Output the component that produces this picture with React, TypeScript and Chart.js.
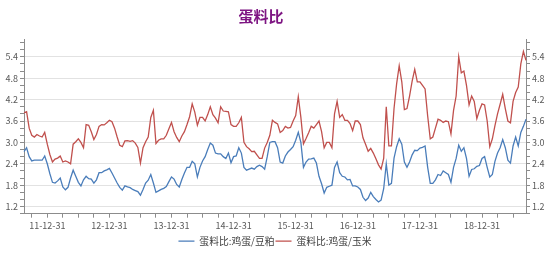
import React, { useEffect, useRef } from 'react';
import { Chart, registerables } from 'chart.js';

Chart.register(...registerables);

const FONT = '"Noto Sans CJK SC", "Noto Sans", sans-serif';
const TITLE = '蛋料比';
const TITLE_COLOR = '#7E1683';
const SERIES_NAMES = ['蛋料比:鸡蛋/豆粕', '蛋料比:鸡蛋/玉米'];
const SERIES_COLORS = ['#4A7DBA', '#C0504D'];
const AXIS_COLOR = '#8C8C8C';
const GRID_COLOR = '#E2E2E2';
const TICK_COLOR = '#595959';

// Semi-monthly observation dates (YY-MM-DD), 11-08-15 .. 19-09-15
function buildCategories(): string[] {
  const out: string[] = [];
  for (let y = 2011; y <= 2019; y++) {
    for (let m = 1; m <= 12; m++) {
      if (y === 2011 && m < 8) continue;
      const yy = String(y % 100).padStart(2, '0');
      const mm = String(m).padStart(2, '0');
      out.push(`${yy}-${mm}-15`);
      if (y === 2019 && m === 9) return out;
      const last = new Date(y, m, 0).getDate();
      out.push(`${yy}-${mm}-${last}`);
    }
  }
  return out;
}
const categories = buildCategories();

// 蛋料比:鸡蛋/豆粕
const eggSoymeal = [
  2.74, 2.85, 2.60, 2.48, 2.50, 2.50, 2.50, 2.50, 2.62, 2.40,
  2.12, 1.88, 1.86, 1.92, 2.00, 1.75, 1.67, 1.74, 2.00, 2.22,
  2.05, 1.88, 1.78, 1.95, 2.05, 1.98, 1.97, 1.86, 1.95, 2.15,
  2.15, 2.20, 2.23, 2.27, 2.14, 2.00, 1.86, 1.74, 1.66, 1.78,
  1.75, 1.73, 1.68, 1.65, 1.62, 1.52, 1.68, 1.86, 1.94, 2.10,
  1.86, 1.60, 1.64, 1.68, 1.71, 1.76, 1.90, 2.03, 1.97, 1.82,
  1.75, 1.96, 2.14, 2.30, 2.30, 2.47, 2.40, 2.03, 2.30, 2.48,
  2.60, 2.80, 2.98, 2.92, 2.70, 2.68, 2.68, 2.60, 2.55, 2.70,
  2.43, 2.60, 2.62, 2.85, 2.70, 2.30, 2.22, 2.25, 2.28, 2.25,
  2.32, 2.36, 2.32, 2.25, 2.60, 3.00, 3.02, 3.02, 2.85, 2.45,
  2.42, 2.62, 2.73, 2.80, 2.88, 3.06, 3.28, 3.00, 2.30, 2.45,
  2.53, 2.54, 2.56, 2.42, 2.05, 1.84, 1.58, 1.74, 1.77, 1.80,
  2.30, 2.45, 2.15, 2.05, 2.03, 1.95, 1.96, 1.78, 1.78, 1.75,
  1.68, 1.46, 1.37, 1.44, 1.60, 1.48, 1.40, 1.33, 1.38, 1.70,
  2.40, 1.80, 1.85, 2.56, 2.88, 3.10, 2.95, 2.45, 2.30, 2.45,
  2.65, 2.78, 2.77, 2.84, 2.86, 2.90, 2.30, 1.85, 1.85, 1.95,
  2.10, 2.07, 2.20, 2.15, 2.10, 1.88, 2.30, 2.55, 2.92, 2.75,
  2.85, 2.55, 2.05, 2.24, 2.26, 2.33, 2.35, 2.55, 2.60, 2.30,
  2.03, 2.10, 2.47, 2.70, 2.85, 3.08, 2.85, 2.50, 2.42, 2.90,
  3.15, 2.90, 3.28, 3.45, 3.65,
];

// 蛋料比:鸡蛋/玉米
const eggCorn = [
  3.83, 3.86, 3.40, 3.20, 3.15, 3.22, 3.18, 3.15, 3.28, 2.95,
  2.66, 2.45, 2.53, 2.56, 2.62, 2.45, 2.48, 2.45, 2.40, 2.95,
  3.02, 3.10, 3.00, 2.85, 3.50, 3.48, 3.30, 3.08, 3.22, 3.45,
  3.50, 3.49, 3.55, 3.62, 3.58, 3.40, 3.15, 2.92, 2.88, 3.04,
  3.05, 3.03, 3.05, 2.98, 2.86, 2.42, 2.85, 3.02, 3.15, 3.70,
  3.90, 2.97, 3.06, 3.10, 3.10, 3.20, 3.38, 3.56, 3.30, 3.14,
  3.02, 3.18, 3.30, 3.50, 3.72, 4.08, 3.85, 3.48, 3.70, 3.70,
  3.60, 3.78, 4.00, 3.78, 3.68, 3.55, 4.00, 3.88, 3.87, 3.86,
  3.50, 3.45, 3.45, 3.55, 3.70, 3.00, 2.88, 2.82, 2.74, 2.75,
  2.65, 2.55, 2.55, 2.84, 3.00, 3.20, 3.62, 3.56, 3.52, 3.28,
  3.33, 3.45, 3.40, 3.42, 3.60, 3.75, 4.28, 3.70, 2.96, 3.11,
  3.27, 3.45, 3.40, 3.50, 3.60, 3.30, 2.85, 3.00, 3.00, 2.85,
  3.80, 4.15, 3.70, 3.78, 3.62, 3.62, 3.53, 3.33, 3.60, 3.60,
  3.50, 3.13, 2.95, 2.75, 2.83, 2.70, 2.54, 2.37, 2.25, 2.55,
  4.00, 2.90, 2.90, 3.95, 4.64, 5.15, 4.70, 3.92, 3.95, 4.30,
  4.72, 5.05, 4.70, 4.70, 4.60, 4.50, 3.74, 3.10, 3.15, 3.40,
  3.65, 3.62, 3.56, 3.60, 3.58, 3.24, 3.90, 4.30, 5.40, 4.95,
  5.00, 4.60, 4.05, 4.30, 4.15, 3.67, 3.90, 4.08, 4.05, 3.60,
  2.88, 3.10, 3.47, 3.80, 4.07, 4.35, 3.95, 3.60, 3.55, 4.15,
  4.40, 4.55, 5.20, 5.55, 5.30,
];

const Y_MIN = 1.0;
const Y_MAX = 5.9;
const yMajorTicks = [1.2, 1.8, 2.4, 3.0, 3.6, 4.2, 4.8, 5.4];
const yAllTicks = [
  1.0, 1.2, 1.4, 1.6, 1.8, 2.0, 2.2, 2.4, 2.6, 2.8, 3.0, 3.2, 3.4,
  3.6, 3.8, 4.0, 4.2, 4.4, 4.6, 4.8, 5.0, 5.2, 5.4, 5.6, 5.8,
];
const xQuarterEnds = ['03-31', '06-30', '09-30', '12-31'];
const xLabelSuffix = '12-31';

const isMajor = (v: number) => yMajorTicks.some((m) => Math.abs(m - v) < 1e-6);

const titlePlugin = {
  id: 'customTitle',
  afterDraw(chart: any) {
    const ctx = chart.ctx;
    ctx.save();
    ctx.font = `bold 15px ${FONT}`;
    ctx.fillStyle = TITLE_COLOR;
    ctx.textAlign = 'center';
    ctx.textBaseline = 'middle';
    ctx.fillText(TITLE, 261, 16);
    ctx.restore();
  },
};

function makeYAxis(position: 'left' | 'right', onArea: boolean) {
  return {
    position,
    min: Y_MIN,
    max: Y_MAX,
    afterBuildTicks: (s: any) => {
      s.ticks = yAllTicks.map((v) => ({ value: v }));
    },
    afterFit: (s: any) => {
      s.width = 24;
    },
    border: { display: true, color: AXIS_COLOR, width: 1 },
    grid: {
      drawOnChartArea: onArea,
      color: (c: any) => (c.tick && isMajor(c.tick.value) ? GRID_COLOR : 'rgba(0,0,0,0)'),
      tickColor: AXIS_COLOR,
      tickLength: 4,
      lineWidth: 1,
    },
    ticks: {
      autoSkip: false,
      padding: 2,
      color: TICK_COLOR,
      font: { family: FONT, size: 9 },
      callback: (v: any) => (isMajor(Number(v)) ? Number(v).toFixed(1) : ''),
    },
  };
}

export default function App() {
  const ref = useRef<HTMLCanvasElement | null>(null);
  useEffect(() => {
    if (!ref.current) return;
    const quarterIdx: number[] = [];
    categories.forEach((c, i) => {
      if (xQuarterEnds.some((q) => c.endsWith(q))) quarterIdx.push(i);
    });
    const chart = new Chart(ref.current, {
      type: 'line',
      data: {
        labels: categories,
        datasets: [
          {
            label: SERIES_NAMES[0],
            data: eggSoymeal,
            borderColor: SERIES_COLORS[0],
            backgroundColor: SERIES_COLORS[0],
            borderWidth: 1.3,
            pointRadius: 0,
            tension: 0,
            yAxisID: 'y',
          },
          {
            label: SERIES_NAMES[1],
            data: eggCorn,
            borderColor: SERIES_COLORS[1],
            backgroundColor: SERIES_COLORS[1],
            borderWidth: 1.3,
            pointRadius: 0,
            tension: 0,
            yAxisID: 'y',
          },
        ],
      },
      options: {
        animation: false,
        responsive: true,
        maintainAspectRatio: false,
        layout: { padding: { top: 39, left: 0, right: 0, bottom: 0 } },
        plugins: {
          title: { display: false },
          tooltip: { enabled: false },
          legend: {
            position: 'bottom',
            labels: {
              usePointStyle: true,
              pointStyle: 'line',
              pointStyleWidth: 16,
              padding: 1,
              color: '#404040',
              font: { family: FONT, size: 9.8 },
            },
          },
        },
        scales: {
          x: {
            type: 'category',
            offset: false,
            afterBuildTicks: (s: any) => {
              s.ticks = quarterIdx.map((i) => ({ value: i }));
            },
            afterFit: (s: any) => {
              s.height = 21.5;
            },
            border: { display: true, color: AXIS_COLOR, width: 1 },
            grid: {
              drawOnChartArea: false,
              offset: false,
              tickColor: AXIS_COLOR,
              tickLength: 4,
            },
            ticks: {
              autoSkip: false,
              maxRotation: 0,
              minRotation: 0,
              padding: 2,
              color: TICK_COLOR,
              font: { family: FONT, size: 9 },
              callback: (v: any) => {
                const lab = categories[Number(v)];
                return lab && lab.endsWith(xLabelSuffix) ? lab : '';
              },
            },
          },
          y: makeYAxis('left', true),
          y2: makeYAxis('right', false),
        },
      } as any,
      plugins: [titlePlugin],
    });
    return () => chart.destroy();
  }, []);
  return (
    <div style={{ position: 'absolute', left: 0, top: 0, width: 550, height: 256, background: '#fff' }}>
      <canvas ref={ref} />
    </div>
  );
}
